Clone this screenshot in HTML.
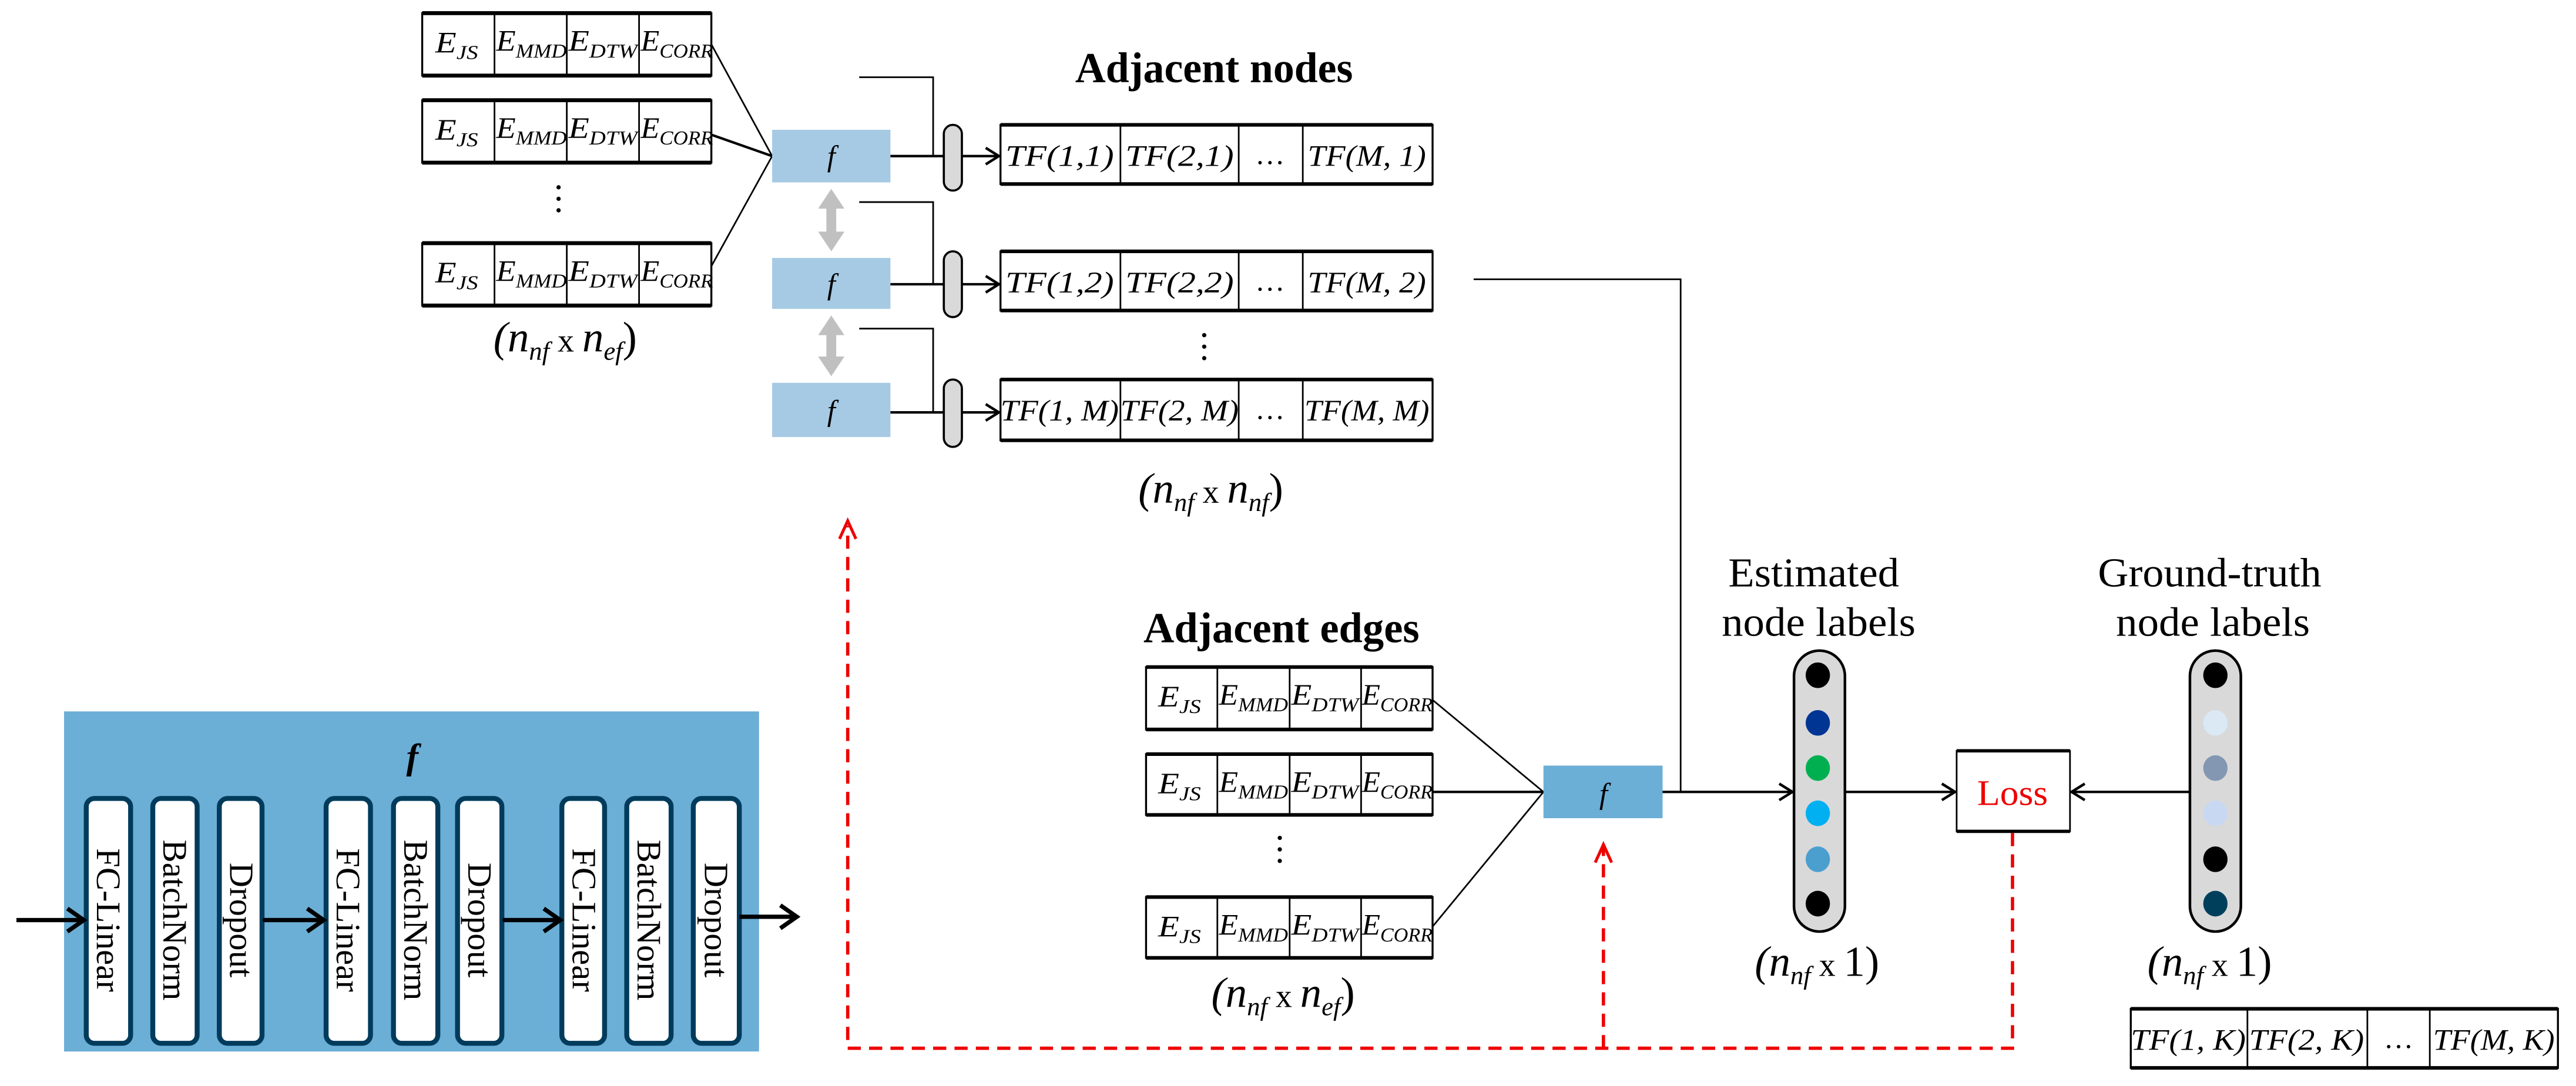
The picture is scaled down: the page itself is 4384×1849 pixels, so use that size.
<!DOCTYPE html>
<html><head><meta charset="utf-8"><style>
html,body{margin:0;padding:0;background:#fff;}
svg{display:block;}
text{font-family:"Liberation Serif",serif;}
.m{font-style:italic;font-size:18px;}
.tf{font-style:italic;font-size:18px;}
</style></head><body>
<svg width="4384" height="1849" viewBox="0 0 1568 661" preserveAspectRatio="none" xmlns="http://www.w3.org/2000/svg">
<defs>
<marker id="a" markerWidth="12" markerHeight="12" refX="10" refY="6" orient="auto" markerUnits="userSpaceOnUse"><path d="M2,1 L10,6 L2,11" fill="none" stroke="#000" stroke-width="1.6"/></marker>
<marker id="ab" markerWidth="16" markerHeight="16" refX="13" refY="8" orient="auto" markerUnits="userSpaceOnUse"><path d="M3,1 L13,8 L3,15" fill="none" stroke="#000" stroke-width="2.6"/></marker>
</defs>

<!-- top-left edge tables -->
<g stroke="#000" fill="none">
<rect x="257" y="8" width="176" height="38" stroke-width="1.2"/><line x1="257" y1="8" x2="433" y2="8" stroke-width="2.4"/><line x1="257" y1="46" x2="433" y2="46" stroke-width="2.4"/>
<line x1="301" y1="8" x2="301" y2="46"/><line x1="345" y1="8" x2="345" y2="46"/><line x1="389" y1="8" x2="389" y2="46"/>
<rect x="257" y="61" width="176" height="38" stroke-width="1.2"/><line x1="257" y1="61" x2="433" y2="61" stroke-width="2.4"/><line x1="257" y1="99" x2="433" y2="99" stroke-width="2.4"/>
<line x1="301" y1="61" x2="301" y2="99"/><line x1="345" y1="61" x2="345" y2="99"/><line x1="389" y1="61" x2="389" y2="99"/>
<rect x="257" y="148" width="176" height="38" stroke-width="1.2"/><line x1="257" y1="148" x2="433" y2="148" stroke-width="2.4"/><line x1="257" y1="186" x2="433" y2="186" stroke-width="2.4"/>
<line x1="301" y1="148" x2="301" y2="186"/><line x1="345" y1="148" x2="345" y2="186"/><line x1="389" y1="148" x2="389" y2="186"/>
</g>
<g class="m">
<text x="265" y="32" textLength="26" lengthAdjust="spacingAndGlyphs">E<tspan dy="4" font-size="12">JS</tspan></text><text x="302" y="31" textLength="43" lengthAdjust="spacingAndGlyphs">E<tspan dy="4" font-size="12">MMD</tspan></text><text x="346" y="31" textLength="42" lengthAdjust="spacingAndGlyphs">E<tspan dy="4" font-size="12">DTW</tspan></text><text x="390" y="31" textLength="44" lengthAdjust="spacingAndGlyphs">E<tspan dy="4" font-size="12">CORR</tspan></text>
<text x="265" y="85" textLength="26" lengthAdjust="spacingAndGlyphs">E<tspan dy="4" font-size="12">JS</tspan></text><text x="302" y="84" textLength="43" lengthAdjust="spacingAndGlyphs">E<tspan dy="4" font-size="12">MMD</tspan></text><text x="346" y="84" textLength="42" lengthAdjust="spacingAndGlyphs">E<tspan dy="4" font-size="12">DTW</tspan></text><text x="390" y="84" textLength="44" lengthAdjust="spacingAndGlyphs">E<tspan dy="4" font-size="12">CORR</tspan></text>
<text x="265" y="172" textLength="26" lengthAdjust="spacingAndGlyphs">E<tspan dy="4" font-size="12">JS</tspan></text><text x="302" y="171" textLength="43" lengthAdjust="spacingAndGlyphs">E<tspan dy="4" font-size="12">MMD</tspan></text><text x="346" y="171" textLength="42" lengthAdjust="spacingAndGlyphs">E<tspan dy="4" font-size="12">DTW</tspan></text><text x="390" y="171" textLength="44" lengthAdjust="spacingAndGlyphs">E<tspan dy="4" font-size="12">CORR</tspan></text>
</g>
<g fill="#000"><circle cx="340" cy="114" r="1.3"/><circle cx="340" cy="121" r="1.3"/><circle cx="340" cy="128" r="1.3"/></g>
<text x="344" y="214" text-anchor="middle" font-size="26"><tspan font-style="italic">(n</tspan><tspan font-size="16" font-style="italic" dy="5">nf</tspan><tspan dy="-5" font-size="20"> x </tspan><tspan font-style="italic">n</tspan><tspan font-size="16" font-style="italic" dy="5">ef</tspan><tspan dy="-5">)</tspan></text>
<g stroke="#000" stroke-width="1"><line x1="433" y1="27" x2="470" y2="95"/><line x1="433" y1="82" x2="470" y2="95" stroke-width="1.5"/><line x1="433" y1="162" x2="470" y2="95"/></g>

<!-- f boxes top -->
<g fill="#a6cae3"><rect x="470" y="79" width="72" height="32"/><rect x="470" y="157" width="72" height="31"/><rect x="470" y="233" width="72" height="33"/></g>
<g class="m" text-anchor="middle" font-size="18"><text x="506" y="101">f</text><text x="506" y="179">f</text><text x="506" y="256">f</text></g>
<g fill="#c0c0c0"><path d="M506,115 L514,127 L509,127 L509,141 L514,141 L506,153 L498,141 L503,141 L503,127 L498,127Z"/><path d="M506,192 L514,204 L509,204 L509,217 L514,217 L506,229 L498,217 L503,217 L503,204 L498,204Z"/></g>
<g stroke="#000" stroke-width="1" fill="none">
<polyline points="523,47 568,47 568,95"/><polyline points="523,123 568,123 568,173"/><polyline points="523,200 568,200 568,251"/>
<line x1="542" y1="95" x2="575" y2="95" stroke-width="1.5"/><line x1="542" y1="173" x2="575" y2="173" stroke-width="1.5"/><line x1="542" y1="251" x2="575" y2="251" stroke-width="1.5"/>
</g>
<g fill="#d9d9d9" stroke="#000" stroke-width="1.3"><rect x="574.5" y="76" width="11" height="40" rx="5.5"/><rect x="574.5" y="153" width="11" height="40" rx="5.5"/><rect x="574.5" y="231" width="11" height="41" rx="5.5"/></g>
<g stroke="#000" stroke-width="1.5" marker-end="url(#a)"><line x1="586" y1="95" x2="608" y2="95"/><line x1="586" y1="173" x2="608" y2="173"/><line x1="586" y1="251" x2="608" y2="251"/></g>

<!-- TF tables -->
<g stroke="#000" fill="none">
<rect x="609" y="76" width="263" height="36" stroke-width="1.2"/><line x1="609" y1="76" x2="872" y2="76" stroke-width="2.2"/><line x1="609" y1="112" x2="872" y2="112" stroke-width="2.2"/>
<line x1="682" y1="76" x2="682" y2="112"/><line x1="754" y1="76" x2="754" y2="112"/><line x1="793" y1="76" x2="793" y2="112"/>
<rect x="609" y="153" width="263" height="36" stroke-width="1.2"/><line x1="609" y1="153" x2="872" y2="153" stroke-width="2.2"/><line x1="609" y1="189" x2="872" y2="189" stroke-width="2.2"/>
<line x1="682" y1="153" x2="682" y2="189"/><line x1="754" y1="153" x2="754" y2="189"/><line x1="793" y1="153" x2="793" y2="189"/>
<rect x="609" y="231" width="263" height="37" stroke-width="1.2"/><line x1="609" y1="231" x2="872" y2="231" stroke-width="2.2"/><line x1="609" y1="268" x2="872" y2="268" stroke-width="2.2"/>
<line x1="682" y1="231" x2="682" y2="268"/><line x1="754" y1="231" x2="754" y2="268"/><line x1="793" y1="231" x2="793" y2="268"/>
<rect x="1297" y="614" width="260" height="36" stroke-width="1.2"/><line x1="1297" y1="614" x2="1557" y2="614" stroke-width="2.2"/><line x1="1297" y1="650" x2="1557" y2="650" stroke-width="2.2"/>
<line x1="1368" y1="614" x2="1368" y2="650"/><line x1="1441" y1="614" x2="1441" y2="650"/><line x1="1479" y1="614" x2="1479" y2="650"/>
</g>
<g class="tf" text-anchor="middle">
<text x="645" y="101" textLength="66" lengthAdjust="spacingAndGlyphs">TF(1,1)</text><text x="718" y="101" textLength="66" lengthAdjust="spacingAndGlyphs">TF(2,1)</text><text x="773" y="100" font-style="normal">…</text><text x="832" y="101" textLength="72" lengthAdjust="spacingAndGlyphs">TF(M, 1)</text>
<text x="645" y="178" textLength="66" lengthAdjust="spacingAndGlyphs">TF(1,2)</text><text x="718" y="178" textLength="66" lengthAdjust="spacingAndGlyphs">TF(2,2)</text><text x="773" y="177" font-style="normal">…</text><text x="832" y="178" textLength="72" lengthAdjust="spacingAndGlyphs">TF(M, 2)</text>
<text x="645" y="256" textLength="72" lengthAdjust="spacingAndGlyphs">TF(1, M)</text><text x="718" y="256" textLength="72" lengthAdjust="spacingAndGlyphs">TF(2, M)</text><text x="773" y="255" font-style="normal">…</text><text x="832" y="256" textLength="76" lengthAdjust="spacingAndGlyphs">TF(M, M)</text>
<text x="1332" y="639" textLength="70" lengthAdjust="spacingAndGlyphs">TF(1, K)</text><text x="1404" y="639" textLength="70" lengthAdjust="spacingAndGlyphs">TF(2, K)</text><text x="1460" y="638" font-style="normal">…</text><text x="1518" y="639" textLength="74" lengthAdjust="spacingAndGlyphs">TF(M, K)</text>
</g>
<g fill="#000"><circle cx="733" cy="204" r="1.3"/><circle cx="733" cy="211" r="1.3"/><circle cx="733" cy="218" r="1.3"/></g>
<text x="739" y="50" text-anchor="middle" font-size="26" font-weight="bold" textLength="169" lengthAdjust="spacingAndGlyphs">Adjacent nodes</text>
<text x="737" y="306" text-anchor="middle" font-size="26"><tspan font-style="italic">(n</tspan><tspan font-size="16" font-style="italic" dy="5">nf</tspan><tspan dy="-5" font-size="20"> x </tspan><tspan font-style="italic">n</tspan><tspan font-size="16" font-style="italic" dy="5">nf</tspan><tspan dy="-5">)</tspan></text>

<polyline points="897,170 1023,170 1023,482" fill="none" stroke="#000" stroke-width="1"/>

<!-- Adjacent edges -->
<text x="780" y="391" text-anchor="middle" font-size="26" font-weight="bold" textLength="168" lengthAdjust="spacingAndGlyphs">Adjacent edges</text>
<g stroke="#000" fill="none">
<rect x="697.6" y="406" width="174.4" height="38" stroke-width="1.2"/><line x1="697.6" y1="406" x2="872" y2="406" stroke-width="2.2"/><line x1="697.6" y1="444" x2="872" y2="444" stroke-width="2.2"/>
<line x1="741" y1="406" x2="741" y2="444"/><line x1="785" y1="406" x2="785" y2="444"/><line x1="828.5" y1="406" x2="828.5" y2="444"/>
<rect x="697.6" y="459" width="174.4" height="37" stroke-width="1.2"/><line x1="697.6" y1="459" x2="872" y2="459" stroke-width="2.2"/><line x1="697.6" y1="496" x2="872" y2="496" stroke-width="2.2"/>
<line x1="741" y1="459" x2="741" y2="496"/><line x1="785" y1="459" x2="785" y2="496"/><line x1="828.5" y1="459" x2="828.5" y2="496"/>
<rect x="697.6" y="546" width="174.4" height="37" stroke-width="1.2"/><line x1="697.6" y1="546" x2="872" y2="546" stroke-width="2.2"/><line x1="697.6" y1="583" x2="872" y2="583" stroke-width="2.2"/>
<line x1="741" y1="546" x2="741" y2="583"/><line x1="785" y1="546" x2="785" y2="583"/><line x1="828.5" y1="546" x2="828.5" y2="583"/>
</g>
<g class="m">
<text x="705" y="430" textLength="26" lengthAdjust="spacingAndGlyphs">E<tspan dy="4" font-size="12">JS</tspan></text><text x="742" y="429" textLength="42" lengthAdjust="spacingAndGlyphs">E<tspan dy="4" font-size="12">MMD</tspan></text><text x="786" y="429" textLength="41" lengthAdjust="spacingAndGlyphs">E<tspan dy="4" font-size="12">DTW</tspan></text><text x="829" y="429" textLength="43" lengthAdjust="spacingAndGlyphs">E<tspan dy="4" font-size="12">CORR</tspan></text>
<text x="705" y="483" textLength="26" lengthAdjust="spacingAndGlyphs">E<tspan dy="4" font-size="12">JS</tspan></text><text x="742" y="482" textLength="42" lengthAdjust="spacingAndGlyphs">E<tspan dy="4" font-size="12">MMD</tspan></text><text x="786" y="482" textLength="41" lengthAdjust="spacingAndGlyphs">E<tspan dy="4" font-size="12">DTW</tspan></text><text x="829" y="482" textLength="43" lengthAdjust="spacingAndGlyphs">E<tspan dy="4" font-size="12">CORR</tspan></text>
<text x="705" y="570" textLength="26" lengthAdjust="spacingAndGlyphs">E<tspan dy="4" font-size="12">JS</tspan></text><text x="742" y="569" textLength="42" lengthAdjust="spacingAndGlyphs">E<tspan dy="4" font-size="12">MMD</tspan></text><text x="786" y="569" textLength="41" lengthAdjust="spacingAndGlyphs">E<tspan dy="4" font-size="12">DTW</tspan></text><text x="829" y="569" textLength="43" lengthAdjust="spacingAndGlyphs">E<tspan dy="4" font-size="12">CORR</tspan></text>
</g>
<g fill="#000"><circle cx="779" cy="510" r="1.3"/><circle cx="779" cy="517" r="1.3"/><circle cx="779" cy="524" r="1.3"/></g>
<text x="781" y="613" text-anchor="middle" font-size="26"><tspan font-style="italic">(n</tspan><tspan font-size="16" font-style="italic" dy="5">nf</tspan><tspan dy="-5" font-size="20"> x </tspan><tspan font-style="italic">n</tspan><tspan font-size="16" font-style="italic" dy="5">ef</tspan><tspan dy="-5">)</tspan></text>
<g stroke="#000" stroke-width="1"><line x1="872" y1="426" x2="939.5" y2="482"/><line x1="872" y1="482" x2="939.5" y2="482" stroke-width="1.5"/><line x1="872" y1="564" x2="939.5" y2="482"/></g>
<rect x="939.5" y="466" width="72.5" height="32" fill="#6baed6"/>
<text x="976" y="489" text-anchor="middle" class="m" font-size="18">f</text>
<line x1="1012" y1="482" x2="1091" y2="482" stroke="#000" stroke-width="1.5" marker-end="url(#a)"/>

<!-- Estimated -->
<text x="1104" y="357" text-anchor="middle" font-size="25" textLength="104" lengthAdjust="spacingAndGlyphs">Estimated</text>
<text x="1107" y="387" text-anchor="middle" font-size="25" textLength="118" lengthAdjust="spacingAndGlyphs">node labels</text>
<rect x="1092" y="396" width="31" height="171" rx="15.5" fill="#d9d9d9" stroke="#000" stroke-width="1.6"/>
<ellipse cx="1106.5" cy="411" rx="7.4" ry="7.8" fill="#000"/>
<ellipse cx="1106.5" cy="440" rx="7.4" ry="7.8" fill="#003594"/>
<ellipse cx="1106.5" cy="467.5" rx="7.4" ry="7.8" fill="#00b050"/>
<ellipse cx="1106.5" cy="495" rx="7.4" ry="7.8" fill="#00b0f0"/>
<ellipse cx="1106.5" cy="523" rx="7.4" ry="7.8" fill="#4a9fcf"/>
<ellipse cx="1106.5" cy="550" rx="7.4" ry="7.8" fill="#000"/>
<text x="1106" y="594" text-anchor="middle" font-size="26"><tspan font-style="italic">(n</tspan><tspan font-size="16" font-style="italic" dy="5">nf</tspan><tspan dy="-5" font-size="20"> x </tspan><tspan>1)</tspan></text>

<line x1="1123" y1="482" x2="1190" y2="482" stroke="#000" stroke-width="1.5" marker-end="url(#a)"/>
<rect x="1191" y="457" width="69" height="49" fill="#fff" stroke="#000" stroke-width="1"/>
<line x1="1191" y1="457" x2="1260" y2="457" stroke="#000" stroke-width="2"/><line x1="1191" y1="506" x2="1260" y2="506" stroke="#000" stroke-width="2"/>
<text x="1225" y="490" text-anchor="middle" font-size="22" fill="#e00" textLength="43" lengthAdjust="spacingAndGlyphs">Loss</text>
<line x1="1333" y1="482" x2="1261" y2="482" stroke="#000" stroke-width="1.5" marker-end="url(#a)"/>

<!-- Ground truth -->
<text x="1345" y="357" text-anchor="middle" font-size="25" textLength="136" lengthAdjust="spacingAndGlyphs">Ground-truth</text>
<text x="1347" y="387" text-anchor="middle" font-size="25" textLength="118" lengthAdjust="spacingAndGlyphs">node labels</text>
<rect x="1333" y="396" width="31" height="171" rx="15.5" fill="#d9d9d9" stroke="#000" stroke-width="1.6"/>
<ellipse cx="1348.5" cy="411" rx="7.4" ry="7.8" fill="#000"/>
<ellipse cx="1348.5" cy="440" rx="7.4" ry="7.8" fill="#dbe9f4"/>
<ellipse cx="1348.5" cy="467.5" rx="7.4" ry="7.8" fill="#8397b3"/>
<ellipse cx="1348.5" cy="495" rx="7.4" ry="7.8" fill="#c9d8f2"/>
<ellipse cx="1348.5" cy="523" rx="7.4" ry="7.8" fill="#000"/>
<ellipse cx="1348.5" cy="550" rx="7.4" ry="7.8" fill="#003f5c"/>
<text x="1345" y="594" text-anchor="middle" font-size="26"><tspan font-style="italic">(n</tspan><tspan font-size="16" font-style="italic" dy="5">nf</tspan><tspan dy="-5" font-size="20"> x </tspan><tspan>1)</tspan></text>

<!-- red dashed -->
<g stroke="#e00" stroke-width="2" fill="none" stroke-dasharray="8,5">
<polyline points="1225,507 1225,638 516,638 516,320"/>
<line x1="976" y1="638" x2="976" y2="516"/>
</g>
<g stroke="#e00" stroke-width="1.8" fill="none"><polyline points="511,328 516,317 521,328"/><polyline points="971,525 976,514 981,525"/></g>

<!-- bottom-left f panel -->
<rect x="39" y="433" width="423" height="207" fill="#6baed6"/>
<text x="251" y="468" text-anchor="middle" font-size="22" font-style="italic" font-weight="bold">f</text>
<g fill="#fff" stroke="#003b5c" stroke-width="3">
<rect x="52.5" y="486" width="27" height="149" rx="5"/><rect x="93" y="486" width="27" height="149" rx="5"/><rect x="133.5" y="486" width="26" height="149" rx="5"/>
<rect x="198.5" y="486" width="27" height="149" rx="5"/><rect x="239.5" y="486" width="27" height="149" rx="5"/><rect x="278.5" y="486" width="27" height="149" rx="5"/>
<rect x="342" y="486" width="26" height="149" rx="5"/><rect x="381.5" y="486" width="27" height="149" rx="5"/><rect x="422" y="486" width="28" height="149" rx="5"/>
</g>
<g font-size="21" text-anchor="middle" fill="#000">
<text transform="translate(59,560) rotate(90)">FC-Linear</text>
<text transform="translate(99.5,560) rotate(90)">BatchNorm</text>
<text transform="translate(140,560) rotate(90)">Dropout</text>
<text transform="translate(205,560) rotate(90)">FC-Linear</text>
<text transform="translate(246,560) rotate(90)">BatchNorm</text>
<text transform="translate(285,560) rotate(90)">Dropout</text>
<text transform="translate(348.5,560) rotate(90)">FC-Linear</text>
<text transform="translate(388,560) rotate(90)">BatchNorm</text>
<text transform="translate(429,560) rotate(90)">Dropout</text>
</g>
<g stroke="#000" stroke-width="2.6" marker-end="url(#ab)">
<line x1="10" y1="560" x2="51" y2="560"/><line x1="160" y1="560" x2="197" y2="560"/><line x1="306" y1="560" x2="341" y2="560"/><line x1="450" y1="558" x2="485" y2="558"/>
</g>
</svg>
</body></html>
